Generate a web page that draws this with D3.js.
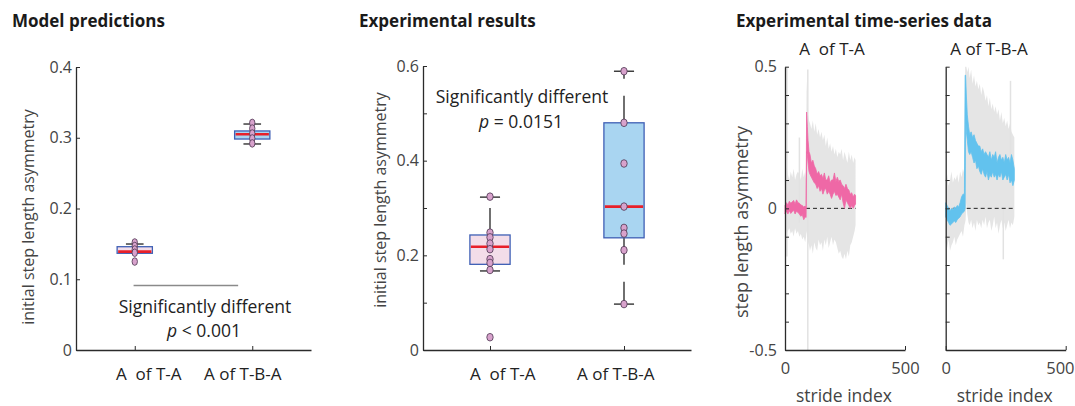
<!DOCTYPE html>
<html>
<head>
<meta charset="utf-8">
<script src="https://cdn.jsdelivr.net/npm/d3@7"></script>
<style>
  body { margin: 0; background: #fff; }
  text { font-family: "Open Sans", sans-serif; white-space: pre; }
</style>
</head>
<body>
<div id="chart"></div>
<script>
// ---- data ----
var categories = ["A  of T-A", "A of T-B-A"];

// model predictions (panel 1)
var modelTA  = [0.152, 0.147, 0.142, 0.1375, 0.125];
var modelTBA = [0.321, 0.313, 0.306, 0.299, 0.292];
var modelQ1 = [0.1367, 0.2982];
var modelMedian = [0.139, 0.305];
var modelQ3 = [0.146, 0.3096];
var modelWhiskLo = [0.1375, 0.2912];
var modelWhiskHi = [0.1498, 0.3194];

// experimental results (panel 2)
var expTA  = [0.324, 0.248, 0.238, 0.225, 0.213, 0.192, 0.184, 0.169, 0.027];
var expTBA = [0.589, 0.480, 0.394, 0.303, 0.258, 0.246, 0.211, 0.097];
var expQ1 = [0.181, 0.237];
var expMedian = [0.218, 0.303];
var expQ3 = [0.243, 0.480];
var expWhiskLo = [0.167, 0.097];
var expWhiskHi = [0.323, 0.589];

// time series, A of T-A (left)
var taStride = [0,6,12,18,24,30,36,42,48,54,60,66,72,78,84,88,90,93,96,100,104,110,116,122,128,134,140,146,152,158,164,170,176,182,188,194,200,206,212,218,224,230,236,242,248,254,260,266,272,278,284,290,294];
var taMeanLo = [-0.02,-0.01,-0.02,-0.008,-0.018,-0.012,-0.006,-0.02,-0.01,-0.015,-0.02,-0.028,-0.022,-0.04,-0.03,-0.032,0.2,0.19,0.16,0.13,0.12,0.11,0.1,0.09,0.085,0.07,0.08,0.06,0.07,0.05,0.065,0.07,0.05,0.06,0.05,0.035,0.05,0.06,0.045,0.05,0.04,0.03,0.05,0.02,0.0,0.03,0.02,0.01,0.0,0.01,0.0,0.01,0.015];
var taMeanHi = [0.01,0.02,0.012,0.025,0.018,0.022,0.028,0.015,0.03,0.02,0.018,0.012,0.01,0.005,0.008,0.0,0.34,0.29,0.24,0.2,0.19,0.16,0.17,0.15,0.14,0.12,0.13,0.115,0.12,0.105,0.125,0.1,0.1,0.115,0.09,0.1,0.1,0.125,0.095,0.11,0.095,0.1,0.085,0.08,0.07,0.085,0.07,0.065,0.05,0.055,0.04,0.05,0.045];
var taGrayLo = [-0.1,-0.09,-0.08,-0.07,-0.09,-0.08,-0.1,-0.07,-0.09,-0.08,-0.1,-0.09,-0.11,-0.1,-0.12,-0.1,-0.08,-0.1,-0.12,-0.13,-0.15,-0.13,-0.16,-0.12,-0.14,-0.15,-0.11,-0.13,-0.12,-0.15,-0.11,-0.13,-0.1,-0.14,-0.12,-0.1,-0.13,-0.11,-0.12,-0.14,-0.16,-0.15,-0.17,-0.18,-0.16,-0.18,-0.15,-0.17,-0.13,-0.12,-0.1,-0.08,-0.06];
var taGrayHi = [0.12,0.15,0.12,0.1,0.13,0.11,0.14,0.1,0.12,0.13,0.12,0.1,0.14,0.11,0.13,0.1,0.45,0.38,0.33,0.31,0.3,0.28,0.31,0.27,0.3,0.26,0.28,0.25,0.27,0.24,0.26,0.22,0.25,0.21,0.23,0.2,0.22,0.19,0.21,0.18,0.2,0.19,0.21,0.17,0.2,0.18,0.16,0.2,0.17,0.19,0.16,0.18,0.17];
var taSpikeStride = [8, 60, 95];
var taSpikeLo = [-0.17, -0.05, -0.5];
var taSpikeHi = [0.5, 0.25, 0.49];

// time series, A of T-B-A (right)
var tbaStride = [0,6,12,18,24,30,36,42,48,54,60,66,72,78,81,83,86,90,95,100,106,112,118,124,130,136,142,148,154,160,166,172,178,184,190,196,202,208,214,220,226,232,238,244,250,256,262,268,274,280,286];
var tbaMeanLo = [-0.03,-0.04,-0.05,-0.06,-0.055,-0.05,-0.045,-0.05,-0.04,-0.035,-0.03,-0.02,-0.015,-0.01,0.0,0.33,0.27,0.24,0.2,0.19,0.2,0.18,0.16,0.17,0.14,0.15,0.13,0.12,0.14,0.12,0.11,0.13,0.1,0.12,0.11,0.13,0.11,0.12,0.1,0.12,0.11,0.13,0.1,0.11,0.12,0.1,0.12,0.09,0.1,0.08,0.1];
var tbaMeanHi = [0.02,0.01,0.0,-0.01,0.0,-0.005,0.005,0.0,0.01,0.005,0.02,0.04,0.05,0.05,0.47,0.47,0.4,0.33,0.29,0.26,0.27,0.25,0.26,0.24,0.23,0.22,0.22,0.2,0.21,0.19,0.2,0.19,0.18,0.2,0.17,0.19,0.18,0.2,0.16,0.18,0.19,0.17,0.18,0.16,0.19,0.17,0.18,0.16,0.19,0.17,0.14];
var tbaGrayLo = [-0.12,-0.14,-0.11,-0.15,-0.13,-0.12,-0.1,-0.13,-0.11,-0.1,-0.09,-0.08,-0.1,-0.06,-0.05,-0.04,0.02,-0.02,-0.05,-0.06,-0.04,-0.07,-0.05,-0.08,-0.04,-0.06,-0.05,-0.07,-0.04,-0.06,-0.03,-0.07,-0.05,-0.04,-0.08,-0.06,-0.03,-0.07,-0.05,-0.09,-0.06,-0.04,-0.07,-0.05,-0.08,-0.06,-0.04,-0.07,-0.05,-0.06,-0.03];
var tbaGrayHi = [0.1,0.12,0.08,0.1,0.13,0.09,0.11,0.1,0.12,0.09,0.13,0.11,0.14,0.12,0.5,0.5,0.5,0.48,0.5,0.46,0.49,0.44,0.47,0.43,0.45,0.42,0.44,0.4,0.43,0.41,0.38,0.4,0.36,0.39,0.35,0.37,0.34,0.36,0.33,0.35,0.31,0.34,0.3,0.32,0.29,0.31,0.28,0.3,0.27,0.26,0.25];
var tbaSpikeStride = [240, 270];
var tbaSpikeLo = [-0.18, 0.1];
var tbaSpikeHi = [0.0, 0.45];

// ---- drawing ----
var W = 1075, H = 406;
var svg = d3.select("#chart").append("svg").attr("width", W).attr("height", H);

var axisColor = "#2b2b2b", labelColor = "#444", textColor = "#222";
var boxStroke = "#3f5fb5", medianColor = "#e8202a";
var boxFills = ["#f3dde9", "#a9d5f1"];
var dotFill = "#d8a2cc", dotStroke = "#4b3550";

function title(x, txt) {
  svg.append("text").attr("x", x).attr("y", 27)
    .style("font-size", "17px").style("font-weight", "bold").style("fill", "#1a1a1a")
    .text(txt);
}

function yLabel(cx, cy, txt, size) {
  svg.append("text")
    .attr("transform", "translate(" + cx + "," + cy + ") rotate(-90)")
    .attr("text-anchor", "middle").attr("dy", "0.35em")
    .style("font-size", (size || 16) + "px").style("fill", labelColor)
    .text(txt);
}

function styleAxis(g) {
  g.select(".domain").attr("stroke", axisColor).attr("stroke-width", 1.3);
  g.selectAll(".tick line").attr("stroke", axisColor).attr("stroke-width", 1);
  g.selectAll(".tick text").style("font-size", "16px").style("fill", labelColor)
    .style("font-family", "'Open Sans', sans-serif");
}

function note(g, x, y, txt) {
  return g.append("text").attr("x", x).attr("y", y).attr("text-anchor", "middle")
    .style("font-size", "17.5px").style("fill", textColor).text(txt);
}

function pNote(g, x, y, rest) {
  var t = g.append("text").attr("x", x).attr("y", y).attr("text-anchor", "middle")
    .style("font-size", "17.5px").style("fill", textColor);
  t.append("tspan").style("font-style", "italic").text("p");
  t.append("tspan").text(rest);
}

function boxPanel(o) {
  var x = d3.scaleLinear().domain([0.5, 2.5]).range([o.left, o.right]);
  var y = d3.scaleLinear().domain([0, o.ymax]).range([350, o.top]);
  var g = svg.append("g");

  var ya = g.append("g").attr("transform", "translate(" + o.left + ",0)")
    .call(d3.axisLeft(y).tickValues(o.ticks).tickSize(-4).tickSizeOuter(0)
      .tickPadding(4).tickFormat(function (d) {
        return o.labelled.indexOf(Math.round(d * 10)) >= 0 ? d3.format("")(+d.toFixed(1)) : "";
      }));
  styleAxis(ya);
  var xa = g.append("g").attr("transform", "translate(0,350)")
    .call(d3.axisBottom(x).tickValues([1, 2]).tickSize(-4).tickSizeOuter(0).tickFormat(""));
  styleAxis(xa);

  var hw = 0.15;
  [0, 1].forEach(function (i) {
    var c = i + 1;
    // whiskers (dashed, from box outward)
    g.append("line").attr("x1", x(c)).attr("x2", x(c))
      .attr("y1", y(o.q3[i])).attr("y2", y(o.hi[i]))
      .attr("stroke", "#111").attr("stroke-width", 1.2).attr("stroke-dasharray", "27,17");
    g.append("line").attr("x1", x(c)).attr("x2", x(c))
      .attr("y1", y(o.q1[i])).attr("y2", y(o.lo[i]))
      .attr("stroke", "#111").attr("stroke-width", 1.2).attr("stroke-dasharray", "27,17");
    [o.hi[i], o.lo[i]].forEach(function (v) {
      g.append("line").attr("x1", x(c - hw / 2)).attr("x2", x(c + hw / 2))
        .attr("y1", y(v)).attr("y2", y(v)).attr("stroke", "#111").attr("stroke-width", 1.2);
    });
    g.append("rect").attr("x", x(c - hw)).attr("width", x(c + hw) - x(c - hw))
      .attr("y", y(o.q3[i])).attr("height", y(o.q1[i]) - y(o.q3[i]))
      .attr("fill", boxFills[i]).attr("stroke", boxStroke).attr("stroke-width", 1.3);
    g.append("line").attr("x1", x(c - hw) + 1).attr("x2", x(c + hw) - 1)
      .attr("y1", y(o.med[i])).attr("y2", y(o.med[i]))
      .attr("stroke", medianColor).attr("stroke-width", 2.6);
    g.selectAll(null).data(o.points[i]).enter().append("ellipse")
      .attr("cx", x(c)).attr("cy", function (d) { return y(d); })
      .attr("rx", o.rx).attr("ry", o.ry)
      .attr("fill", dotFill).attr("stroke", dotStroke).attr("stroke-width", 0.8);
  });

  o.catX.forEach(function (cx, i) {
    g.append("text").attr("x", cx).attr("y", 380)
      .style("font-size", "17px").style("fill", textColor).text(categories[i]);
  });
  return { x: x, y: y, g: g };
}

// Panel 1: model predictions
title(12, "Model predictions");
var p1 = boxPanel({
  left: 76, right: 311, top: 67, ymax: 0.4,
  ticks: [0, 0.1, 0.2, 0.3, 0.4], labelled: [0, 1, 2, 3, 4],
  q1: modelQ1, q3: modelQ3, med: modelMedian, lo: modelWhiskLo, hi: modelWhiskHi,
  points: [modelTA, modelTBA], rx: 2.7, ry: 3.8, catX: [116, 204]
});
yLabel(28, 217, "initial step length asymmetry");
p1.g.append("line").attr("x1", p1.x(0.99)).attr("x2", p1.x(1.88))
  .attr("y1", p1.y(0.091)).attr("y2", p1.y(0.091))
  .attr("stroke", "#8a8a8a").attr("stroke-width", 1.5);
note(p1.g, 205, 313, "Significantly different");
pNote(p1.g, 204, 337, " < 0.001");

// Panel 2: experimental results
title(359, "Experimental results");
var p2 = boxPanel({
  left: 423, right: 691, top: 66, ymax: 0.6,
  ticks: [0, 0.1, 0.2, 0.3, 0.4, 0.5, 0.6], labelled: [0, 2, 4, 6],
  q1: expQ1, q3: expQ3, med: expMedian, lo: expWhiskLo, hi: expWhiskHi,
  points: [expTA, expTBA], rx: 3.2, ry: 3.8, catX: [470, 577]
});
yLabel(380, 200, "initial step length asymmetry");
note(p2.g, 522, 103, "Significantly different");
pNote(p2.g, 521, 128, " = 0.0151");

// Panel 3: time series
title(736, "Experimental time-series data");
yLabel(742, 222, "step length asymmetry", 18);

function seriesPanel(o) {
  var x = d3.scaleLinear().domain([0, 500]).range([o.left, o.left + 120]);
  var y = d3.scaleLinear().domain([-0.5, 0.5]).range([350, 66.7]);
  var g = svg.append("g");
  var idx = d3.range(o.stride.length);

  var band = function (lo, hi) {
    return d3.area().x(function (i) { return x(o.stride[i]); })
      .y0(function (i) { return y(lo[i]); }).y1(function (i) { return y(hi[i]); });
  };
  g.append("path").datum(idx).attr("d", band(o.grayLo, o.grayHi)).attr("fill", "#e5e5e5");
  o.spikeStride.forEach(function (s, i) {
    g.append("line").attr("x1", x(s)).attr("x2", x(s))
      .attr("y1", y(o.spikeLo[i])).attr("y2", y(o.spikeHi[i]))
      .attr("stroke", "#e2e2e2").attr("stroke-width", 1.5);
  });
  g.append("line").attr("x1", x(0)).attr("x2", x(o.stride[o.stride.length - 1]))
    .attr("y1", y(0)).attr("y2", y(0))
    .attr("stroke", "#222").attr("stroke-width", 1).attr("stroke-dasharray", "4,3");
  g.append("path").datum(idx).attr("d", band(o.meanLo, o.meanHi))
    .attr("fill", o.color).attr("stroke", o.color).attr("stroke-width", 0.8);

  var ya = g.append("g").attr("transform", "translate(" + o.left + ",0)")
    .call(d3.axisLeft(y).tickValues(d3.range(-5, 6).map(function (d) { return d / 10; }))
      .tickSize(-4).tickSizeOuter(0).tickPadding(8)
      .tickFormat(function (d) {
        if (!o.showY) return "";
        var k = Math.round(d * 10);
        return k === -5 ? "-0.5" : k === 0 ? "0" : k === 5 ? "0.5" : "";
      }));
  styleAxis(ya);
  var xa = g.append("g").attr("transform", "translate(0,350)")
    .call(d3.axisBottom(x).tickValues([0, 500]).tickSize(-4).tickSizeOuter(0).tickPadding(12));
  styleAxis(xa);
  xa.selectAll(".tick text").style("font-size", "16.5px");
  if (o.lastRight) {
    // keep the end label inside the page, as in the original crop
    xa.selectAll(".tick text").filter(function (d) { return d === 500; })
      .attr("text-anchor", "end").attr("x", 1074 - x(500));
  }

  g.append("text").attr("x", o.titleX).attr("y", 55).attr("text-anchor", "middle")
    .style("font-size", "17px").style("fill", textColor).text(o.title);
  g.append("text").attr("x", o.left + 59).attr("y", 402).attr("text-anchor", "middle")
    .style("font-size", "17.5px").style("fill", labelColor).text("stride index");
}

seriesPanel({
  left: 785, stride: taStride, meanLo: taMeanLo, meanHi: taMeanHi,
  grayLo: taGrayLo, grayHi: taGrayHi,
  spikeStride: taSpikeStride, spikeLo: taSpikeLo, spikeHi: taSpikeHi,
  color: "#ef68a6", title: categories[0], titleX: 832, showY: true
});
seriesPanel({
  left: 945.7, stride: tbaStride, meanLo: tbaMeanLo, meanHi: tbaMeanHi,
  grayLo: tbaGrayLo, grayHi: tbaGrayHi,
  spikeStride: tbaSpikeStride, spikeLo: tbaSpikeLo, spikeHi: tbaSpikeHi,
  color: "#62c2ee", title: categories[1], titleX: 989, showY: false, lastRight: true
});
</script>
</body>
</html>
